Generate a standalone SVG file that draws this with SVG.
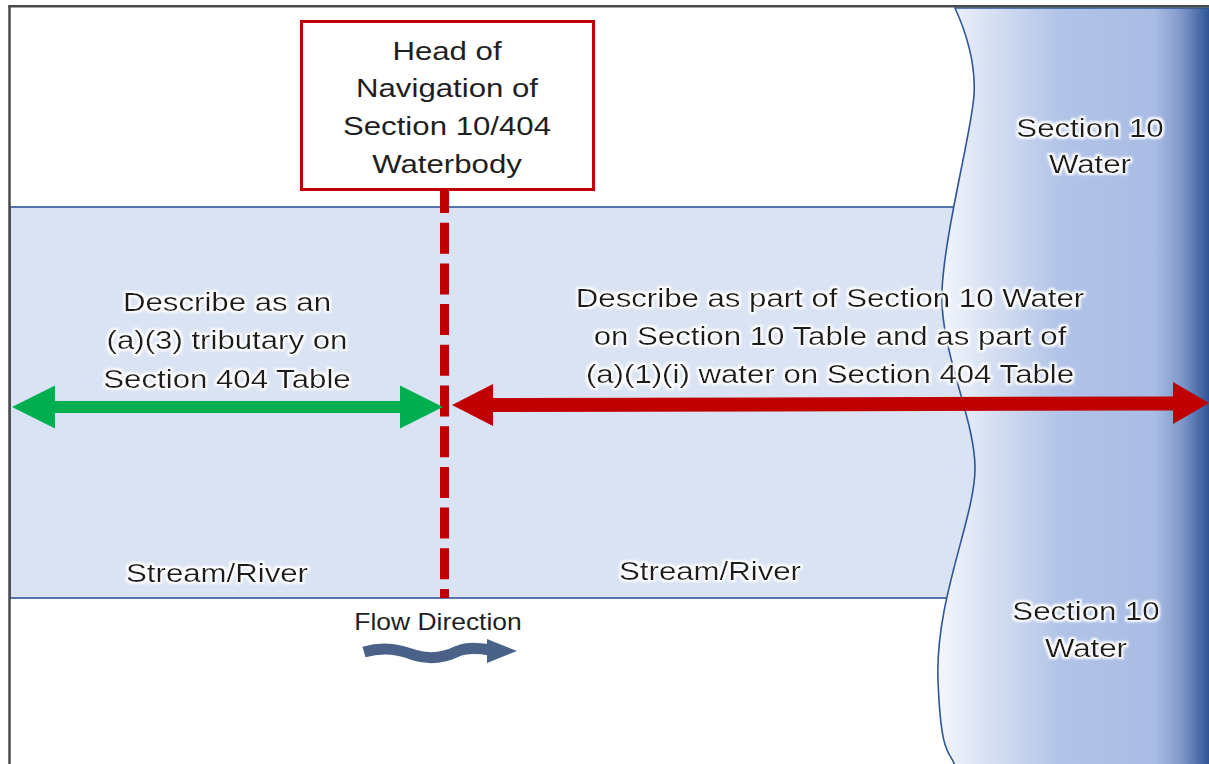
<svg xmlns="http://www.w3.org/2000/svg" width="1209" height="764" viewBox="0 0 1209 764">
<style>
  .t{font-family:"Liberation Sans",Arial,sans-serif;font-size:26px;fill:#1f1f1f;text-anchor:middle}
  .h{filter:url(#halo)}
  .fd{font-family:"Liberation Sans",Arial,sans-serif;font-size:23px;fill:#1f1f1f;text-anchor:middle}
</style>
<defs>
  <linearGradient id="wg" gradientUnits="userSpaceOnUse" x1="938" y1="0" x2="1209" y2="0">
    <stop offset="0" stop-color="#f3f6fc"/>
    <stop offset="0.22" stop-color="#d3ddf1"/>
    <stop offset="0.45" stop-color="#b1c3e7"/>
    <stop offset="0.8" stop-color="#a9bce4"/>
    <stop offset="0.9" stop-color="#7f97c9"/>
    <stop offset="1" stop-color="#2f5597"/>
  </linearGradient>
  <filter id="halo" x="-10%" y="-30%" width="120%" height="160%">
    <feMorphology in="SourceAlpha" operator="dilate" radius="1.5" result="d"/>
    <feGaussianBlur in="d" stdDeviation="1.2" result="b"/>
    <feFlood flood-color="#ffffff"/>
    <feComposite in2="b" operator="in" result="g"/>
    <feMerge><feMergeNode in="g"/><feMergeNode in="SourceGraphic"/></feMerge>
  </filter>
</defs>
<rect width="1209" height="764" fill="#ffffff"/>
<g id="stream">
  <rect x="10" y="207" width="975" height="391" fill="#dae3f3" stroke="#2f5597" stroke-width="1.6"/>
</g>
<g id="water">
  <path d="M955,8 C965,30 976,60 974,95 S945,230 942,290 S976,420 975,470 S935,600 938,680 S950,750 955,766 L1211,766 L1211,8 Z" fill="url(#wg)" stroke="#2f5597" stroke-width="1.6"/>
</g>
<g id="frame" stroke="#4a4a4a" stroke-width="2.5" fill="none">
  <line x1="9.5" y1="5" x2="9.5" y2="764"/>
  <line x1="8.5" y1="6.2" x2="1209" y2="6.2"/>
</g>
<g id="connectors">
  <line x1="444.5" y1="182" x2="444.5" y2="598" stroke="#c00000" stroke-width="9" stroke-dasharray="31 9.7"/>
  <polygon fill="#00b050" points="12,407 55,385.5 55,401 400,401 400,385.5 443,407 400,428.5 400,413 55,413 55,428.5"/>
  <polygon fill="#c00000" points="452,405 493,384 493,398 1173,396.5 1173,382 1209,403 1173,424 1173,410.5 493,412 493,426"/>
</g>
<g id="head-of-navigation">
  <rect x="301.5" y="21.5" width="292" height="168" fill="#ffffff" stroke="#c00000" stroke-width="3"/>
  <text class="t" transform="translate(447 0) scale(1.2 1)" y="60">Head of</text>
  <text class="t" transform="translate(447 0) scale(1.2 1)" y="97.5">Navigation of</text>
  <text class="t" transform="translate(447 0) scale(1.2 1)" y="135">Section 10/404</text>
  <text class="t" transform="translate(447 0) scale(1.2 1)" y="173">Waterbody</text>
</g>
<g id="section10-top" class="h">
  <text class="t" transform="translate(1090 0) scale(1.2 1)" y="137">Section 10</text>
  <text class="t" transform="translate(1090 0) scale(1.2 1)" y="173">Water</text>
</g>
<g id="section10-bottom" class="h">
  <text class="t" transform="translate(1086 0) scale(1.2 1)" y="620">Section 10</text>
  <text class="t" transform="translate(1086 0) scale(1.2 1)" y="657">Water</text>
</g>
<g id="tributary-label" class="h">
  <text class="t" transform="translate(227 0) scale(1.2 1)" y="311">Describe as an</text>
  <text class="t" transform="translate(227 0) scale(1.2 1)" y="349.5">(a)(3) tributary on</text>
  <text class="t" transform="translate(227 0) scale(1.2 1)" y="388">Section 404 Table</text>
</g>
<g id="section10-label" class="h">
  <text class="t" transform="translate(830 0) scale(1.2 1)" y="307">Describe as part of Section 10 Water</text>
  <text class="t" transform="translate(830 0) scale(1.2 1)" y="345">on Section 10 Table and as part of</text>
  <text class="t" transform="translate(830 0) scale(1.2 1)" y="383">(a)(1)(i) water on Section 404 Table</text>
</g>
<g id="stream-left" class="h">
  <text class="t" transform="translate(217 0) scale(1.2 1)" y="582">Stream/River</text>
</g>
<g id="stream-right" class="h">
  <text class="t" transform="translate(710 0) scale(1.2 1)" y="580">Stream/River</text>
</g>
<g id="flow-direction">
  <text class="fd" transform="translate(438 0) scale(1.15 1)" y="630">Flow Direction</text>
  <path d="M364,652 C385,646 400,650 414,655 C430,660 446,657 458,651 C468,647 478,648 490,650" fill="none" stroke="#4a6288" stroke-width="11"/>
  <polygon fill="#4a6288" points="487,639 517,651 487,663"/>
</g>
</svg>
